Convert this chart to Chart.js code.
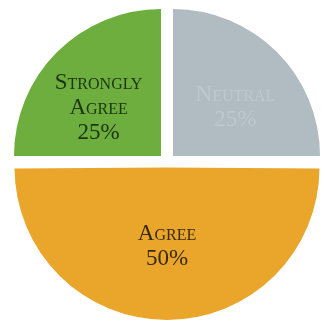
<!DOCTYPE html>
<html>
<head>
<meta charset="utf-8">
<script src="https://cdn.jsdelivr.net/npm/chart.js@4"></script>
<style>
  html, body { margin: 0; padding: 0; background: #ffffff; }
  #wrap { width: 325px; height: 321px; }
</style>
</head>
<body>
<div id="wrap"><canvas id="grafico"></canvas></div>
<script>
const categorias = ["Strongly Agree", "Neutral", "Agree"];
const percentuais = [25, 25, 50];
const cores = ["#6dae3e", "#b0bbc2", "#e9a62b"];
const coresTexto = ["#1c3410", "#bec8ce", "#3a2a0c"];

// nome + percentual no centróide de cada fatia (já deslocada), em versalete
const rotulos = {
  id: "rotulos",
  afterDatasetsDraw(chart) {
    const ctx = chart.ctx;
    const meta = chart.getDatasetMeta(0);
    ctx.save();
    ctx.font = "small-caps 23px 'Liberation Serif', serif";
    ctx.textAlign = "center";
    ctx.textBaseline = "middle";
    meta.data.forEach((arco, i) => {
      const p = arco.getProps(["x", "y", "startAngle", "endAngle", "outerRadius"], true);
      const meio = (p.startAngle + p.endAngle) / 2;
      const alfa = (p.endAngle - p.startAngle) / 2;
      const desloc = (arco.options.offset || 0) / 4;   // o ArcElement translada offset/4
      const raio = p.outerRadius + (alfa >= Math.PI / 2 ? desloc : 0);
      const dist = desloc + 2 * raio * Math.sin(alfa) / (3 * alfa);
      const cx = p.x + Math.cos(meio) * dist;
      const cy = p.y + Math.sin(meio) * dist + 14;
      const linhas = categorias[i].split(" ").concat([percentuais[i] + "%"]);
      const passo = 25;
      const y0 = cy - (linhas.length - 1) * passo / 2;
      ctx.fillStyle = coresTexto[i];
      linhas.forEach((t, k) => ctx.fillText(t, cx, y0 + k * passo));
    });
    ctx.restore();
  }
};

new Chart(document.getElementById("grafico"), {
  type: "pie",
  data: {
    labels: categorias,
    datasets: [{
      data: percentuais,
      backgroundColor: cores,
      borderWidth: 0,
      offset: [34, 34, 22]
    }]
  },
  options: {
    responsive: true,
    maintainAspectRatio: false,
    animation: false,
    rotation: -90,
    radius: 147,
    layout: { padding: { top: 3, bottom: 0, left: 9, right: 0 } },
    plugins: {
      legend: { display: false },
      tooltip: { enabled: false }
    }
  },
  plugins: [rotulos]
});
</script>
</body>
</html>
